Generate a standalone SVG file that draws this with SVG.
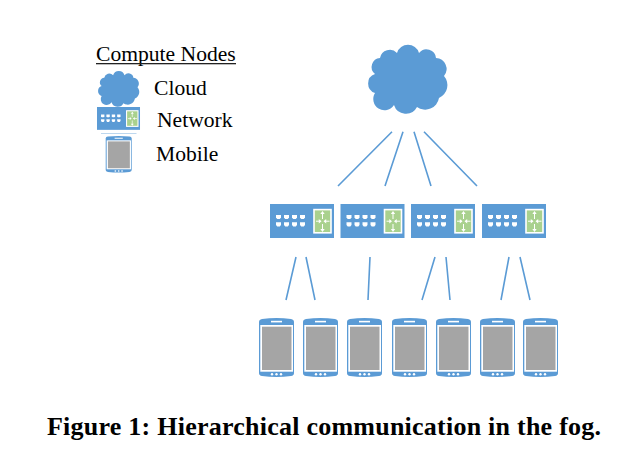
<svg xmlns="http://www.w3.org/2000/svg" xmlns:xlink="http://www.w3.org/1999/xlink" width="641" height="463" viewBox="0 0 641 463">
<style>
.b{fill:#5b9bd5}
.t{font-family:"Liberation Serif",serif;font-size:21.6px;fill:#000}
.c{stroke:#5b9bd5;stroke-width:1.6;fill:none}
.w{fill:#fff}
.cap{font-family:"Liberation Serif",serif;font-size:26px;font-weight:700;fill:#000}
</style>
<defs>
<path id="cloud" class="b" d="M380 58A10 10 0 0 1 397 53A11.500 11.500 0 0 1 419 53A9.500 9.500 0 0 1 436 58A11 11 0 0 1 444 76A14 14 0 0 1 439 98A14 14 0 0 1 417 107A12.500 12.500 0 0 1 394 105A11 11 0 0 1 375 93A10 10 0 0 1 375 74A9 9 0 0 1 380 58Z"/>
<path id="port" class="w" d="M0 0h5v2.600l-1.200 1.500h-2.600l-1.200-1.500z"/>
<g id="switch">
<rect class="b" x="0" y="0" width="64" height="34"/>
<use xlink:href="#port" x="6" y="11"/><use xlink:href="#port" x="14" y="11"/><use xlink:href="#port" x="22" y="11"/><use xlink:href="#port" x="30" y="11"/>
<use xlink:href="#port" x="6" y="18.300"/><use xlink:href="#port" x="14" y="18.300"/><use xlink:href="#port" x="22" y="18.300"/><use xlink:href="#port" x="30" y="18.300"/>
<rect x="44" y="5.600" width="17" height="23.200" fill="#a9d18e" stroke="#fff" stroke-width="1.600"/>
<path d="M52.500 9v6M52.500 20v6M46 17.200h4.500M55 17.200h4.500" stroke="#fff" stroke-width="1"/>
<path class="w" d="M52.500 7l-2.200 3h4.400zM52.500 28l-2.200-3h4.400zM51.500 17.200l-2.700-2.200v4.400zM53.500 17.200l2.700-2.200v4.400z"/>
</g>
<g id="phone">
<path class="b" d="M0 4Q0 1.500 3 1Q17.500 -1 32 1Q35 1.500 35 4V55Q35 57.500 32 58Q17.500 60 3 58Q0 57.500 0 55Z"/>
<rect class="w" x="1.300" y="7" width="32.700" height="46.700"/>
<rect x="3" y="8.700" width="29.500" height="43.300" fill="#a5a5a5"/>
<rect class="w" x="12" y="2.800" width="11" height="1.600"/>
<circle class="w" cx="13" cy="56.300" r="1.200"/><circle class="w" cx="17.500" cy="56.300" r="1.200"/><circle class="w" cx="22" cy="56.300" r="1.200"/>
</g>
</defs>
<g id="connectors" class="c">
<path d="M392 131.700L338 186M403 131.700L385 186M414 131.700L431 186M424 131.700L477 186"/>
<path d="M296 257L286 300M306 257L315 300M370 257L368 300M435 257L422 300M446 257L450 300M509 257L501 300M520 257L530 300"/>
</g>
<g id="legend">
<text class="t" x="96" y="61">Compute Nodes</text>
<rect x="96" y="63" width="140" height="1.300" fill="#222"/>
<use xlink:href="#cloud" transform="translate(98 70) scale(.52) translate(-368 -43)"/>
<text class="t" x="154" y="95">Cloud</text>
<use xlink:href="#switch" transform="translate(97 107) scale(.672)"/>
<rect x="101" y="133" width="35.500" height="1" fill="#bdd7ee"/>
<text class="t" x="157" y="127">Network</text>
<use xlink:href="#phone" transform="translate(105.700 136) scale(.743 .62)"/>
<text class="t" x="156" y="161">Mobile</text>
</g>
<g id="cloud-node"><use xlink:href="#cloud"/></g>
<g id="switch-1"><use xlink:href="#switch" x="270" y="204"/></g>
<g id="switch-2"><use xlink:href="#switch" x="340.500" y="204"/></g>
<g id="switch-3"><use xlink:href="#switch" x="411" y="204"/></g>
<g id="switch-4"><use xlink:href="#switch" x="482" y="204"/></g>
<g id="mobile-1"><use xlink:href="#phone" x="259" y="318"/></g>
<g id="mobile-2"><use xlink:href="#phone" x="303" y="318"/></g>
<g id="mobile-3"><use xlink:href="#phone" x="347" y="318"/></g>
<g id="mobile-4"><use xlink:href="#phone" x="392" y="318"/></g>
<g id="mobile-5"><use xlink:href="#phone" x="436" y="318"/></g>
<g id="mobile-6"><use xlink:href="#phone" x="480" y="318"/></g>
<g id="mobile-7"><use xlink:href="#phone" x="523" y="318"/></g>
<text class="cap" x="47" y="435" textLength="554" lengthAdjust="spacing">Figure 1: Hierarchical communication in the fog.</text>
</svg>
